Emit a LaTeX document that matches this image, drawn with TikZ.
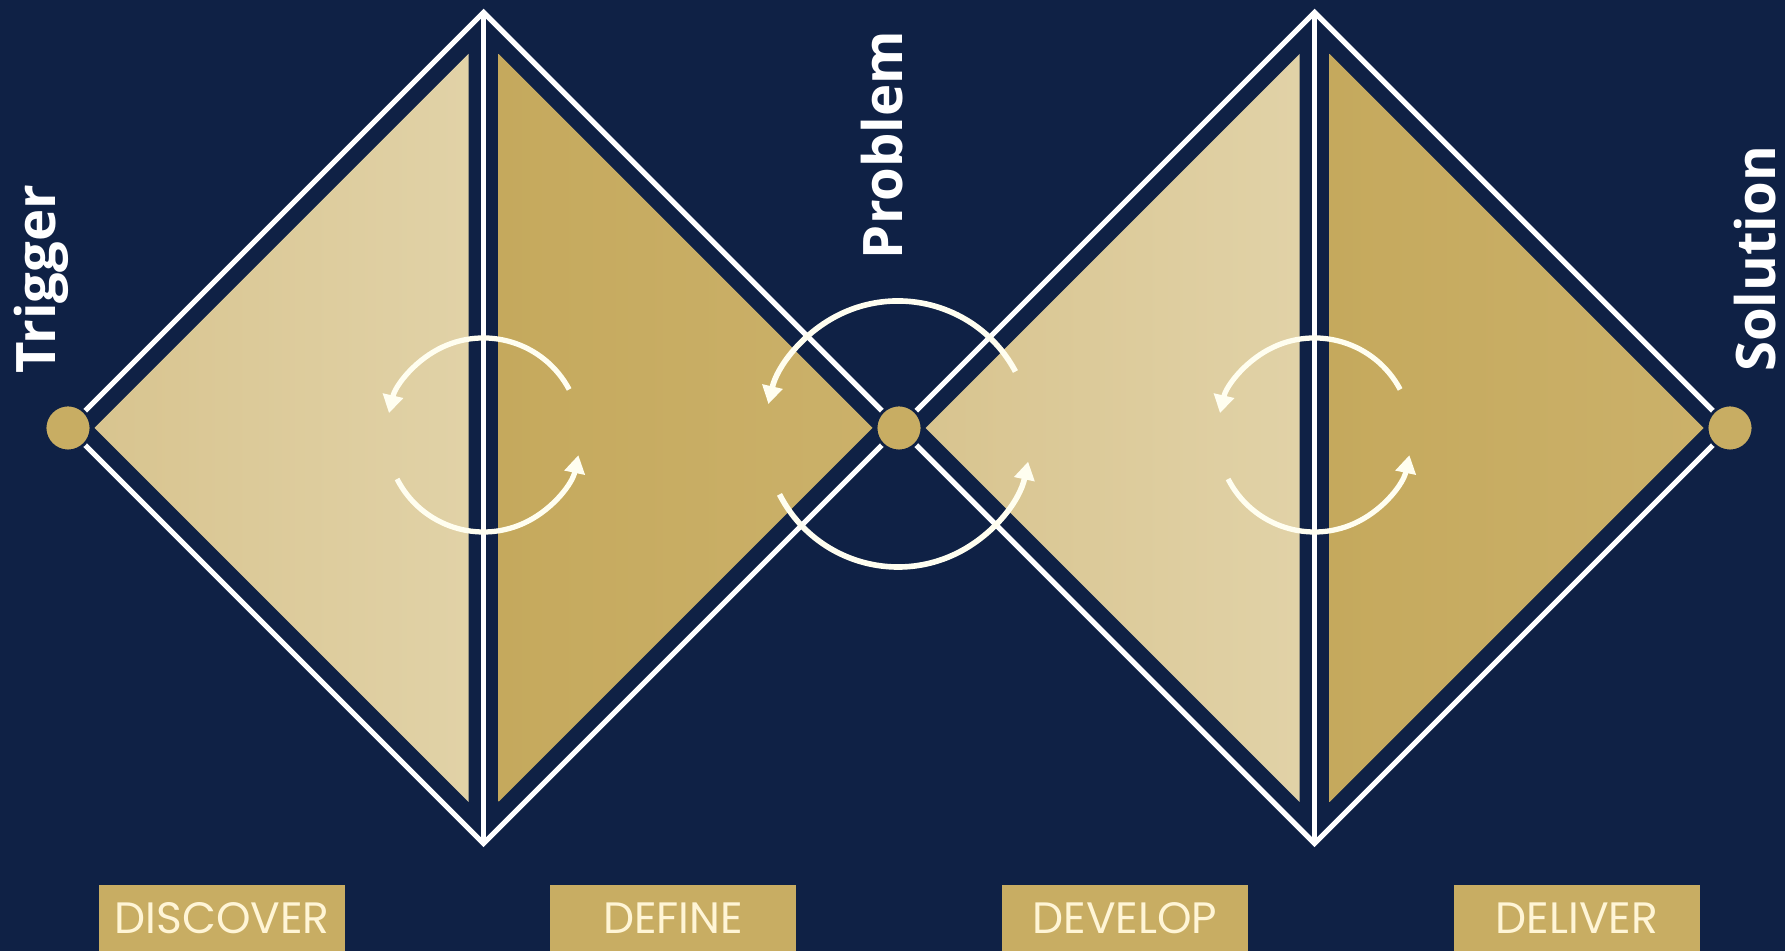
\documentclass[tikz,border=0pt]{standalone}
\usepackage{fontspec}
\setmainfont{Open Sans}
\newfontfamily\phasefont{Poppins}
\usepackage{xcolor}
\usetikzlibrary{arrows.meta,calc}

\definecolor{navy}{HTML}{0F2145}
\definecolor{goldL}{HTML}{D8C48F}
\definecolor{goldLL}{HTML}{E1D2A7}
\definecolor{goldD}{HTML}{C5A95D}
\definecolor{goldDD}{HTML}{CBB16A}
\definecolor{dotgold}{HTML}{C8AD63}
\definecolor{cream}{HTML}{FFF5D6}

\begin{document}
\begin{tikzpicture}[
  outline/.style={draw=white, line width=1.5pt, line join=miter},
  halfL/.style={left color=goldL, right color=goldLL},
  halfR/.style={left color=goldD, right color=goldDD},
  cyc/.style={draw=white!94!yellow, -{Triangle[length=1.8mm, width=2mm]}},
  pt/.style={circle, fill=dotgold, draw=navy, line width=0.8pt,
             minimum size=4.6mm, inner sep=0pt},
  vlab/.style={rotate=90, text=white, inner sep=0pt,
               font=\bfseries\fontsize{15.5}{18}\selectfont},
  phase/.style={fill=dotgold, minimum width=2.46cm, minimum height=0.66cm,
                inner sep=0pt, text=cream, font=\phasefont\fontsize{12.5}{15}\selectfont},
]
% navy background
\fill[navy] (0,0) rectangle (17.85,9.51);
\useasboundingbox (0,0) rectangle (17.85,9.51);

% the end points of the two diamonds
\coordinate (trig) at (0.68,5.23);
\coordinate (prob) at (8.99,5.23);
\coordinate (sol)  at (17.30,5.23);

% two diamonds: light half, dark half, white outline
\foreach \cx in {4.835,13.145}{
  \shade[halfL] ({\cx-3.89},5.23) -- ({\cx-0.15},8.97) -- ({\cx-0.15},1.49) -- cycle;
  \shade[halfR] ({\cx+0.15},8.97) -- ({\cx+3.89},5.23) -- ({\cx+0.15},1.49) -- cycle;
  \draw[outline] ({\cx-4.155},5.23) -- (\cx,9.385) -- ({\cx+4.155},5.23) -- (\cx,1.075) -- cycle;
  \draw[outline] (\cx,9.385) -- (\cx,1.075);
}

% iteration loops
\foreach \x/\y/\r/\w in {4.835/5.16/0.97/1.5pt, 8.98/5.17/1.33/1.6pt, 13.145/5.16/0.97/1.5pt}{
  \draw[cyc, line width=\w] ($(\x,\y)+(28:\r)$) arc[start angle=28, end angle=167, radius=\r];
  \draw[cyc, line width=\w] ($(\x,\y)+(207:\r)$) arc[start angle=207, end angle=348, radius=\r];
}

% gold points
\node[pt] (trigdot) at (trig) {};
\node[pt] (probdot) at (prob) {};
\node[pt] (soldot)  at (sol)  {};

% vertical labels
\node[vlab] (trigger)  at (0.41,6.72)  {Trigger};
\node[vlab] (problem)  at (8.82,8.06)  {Problem};
\node[vlab] (solution) at (17.55,6.92) {Solution};

% phase names along the bottom
\foreach \name/\x/\txt in {discover/2.22/DISCOVER, define/6.73/DEFINE,
                           develop/11.25/DEVELOP, deliver/15.77/DELIVER}{
  \node[phase] (\name) at (\x,0.33) {\txt};
}
\end{tikzpicture}
\end{document}
